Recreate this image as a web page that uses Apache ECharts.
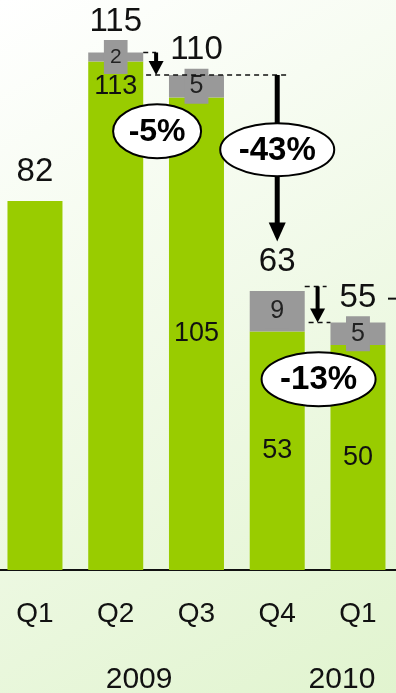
<!DOCTYPE html>
<html><head><meta charset="utf-8">
<script src="https://cdn.jsdelivr.net/npm/echarts@6/dist/echarts.min.js"></script>
<style>html,body{margin:0;padding:0;background:#fff;} #c{width:396px;height:693px;}</style>
</head><body><div id="c"></div>
<script>
const categories = ['Q1', 'Q2', 'Q3', 'Q4', 'Q1'];
const years = ['2009', '2010'];
const baseValues = [82, 113, 105, 53, 50];
const grayValues = [null, 2, 5, 9, 5];
const totals = [82, 115, 110, 63, 55];
const changes = ['-5%', '-43%', '-13%'];

const FONT = 'Liberation Sans, Arial, sans-serif';
const GREEN = '#99cc00';
const GRAY = '#999999';

const chart = echarts.init(document.getElementById('c'), null, {renderer: 'canvas'});

const greenData = baseValues.map((v, i) => {
  const d = {value: v};
  if (i === 0) d.label = {show: false};
  if (i === 1) d.label = {position: 'insideTop', distance: 12};
  return d;
});
const grayData = grayValues.map((v, i) => {
  const d = {value: v};
  if (i === 1) d.label = {fontSize: 21, lineHeight: 24, padding: [5, 6, 5, 6]};
  return d;
});
const totalDist = [12, 14, 8, 8, 8];
const totalData = totals.map((v, i) => ({value: v, label: {distance: totalDist[i]}}));

const option = {
  animation: false,
  grid: {left: -5.4, right: -2.35, top: 3, bottom: 123, containLabel: false, outerBoundsMode: 'none'},
  xAxis: {
    type: 'category',
    data: categories,
    axisLine: {lineStyle: {color: '#111', width: 1.8}},
    axisTick: {show: false},
    axisLabel: {fontSize: 28, color: '#111', fontFamily: FONT, margin: 30}
  },
  yAxis: {type: 'value', min: 0, max: 126, show: false, splitLine: {show: false}},
  graphic: [{
    type: 'rect', z: -100, silent: true,
    shape: {x: 0, y: 0, width: 396, height: 693},
    style: {fill: new echarts.graphic.LinearGradient(0, 0, 1, 1, [
      {offset: 0, color: '#ffffff'}, {offset: 1, color: '#e1f4cf'}])}
  }],
  series: [
    {
      type: 'bar', stack: 's', barWidth: 55, data: greenData,
      itemStyle: {color: GREEN},
      label: {show: true, position: 'inside', fontSize: 27, color: '#111', fontFamily: FONT}
    },
    {
      type: 'bar', stack: 's', barWidth: 55, data: grayData,
      itemStyle: {color: GRAY},
      label: {show: true, position: 'inside', fontSize: 25, lineHeight: 25, color: '#222', fontFamily: FONT,
        backgroundColor: GRAY, padding: [5, 5, 5, 5]}
    },
    {
      type: 'scatter', data: totalData, symbolSize: 1, itemStyle: {color: 'rgba(0,0,0,0)', opacity: 1},
      emphasis: {disabled: true},
      label: {show: true, position: 'top', fontSize: 33, color: '#111', opacity: 1, fontFamily: FONT}
    }
  ]
};
chart.setOption(option);

const P = (i, v) => chart.convertToPixel({xAxisIndex: 0, yAxisIndex: 0}, [i, v]);
const cx = categories.map((c, i) => P(i, 0)[0]);
const Y = v => P(0, v)[1];
const half = 27.5;
const mid = (a, b) => (cx[a] + cx[b]) / 2;

const g = [];
function dashed(x1, x2, y) {
  g.push({type: 'line', z: 50, shape: {x1, y1: y, x2, y2: y},
    style: {stroke: '#111', lineWidth: 1.5, lineDash: [5, 4]}});
}
function arrow(x, y1, y2, sw, hw, hh) {
  g.push({type: 'rect', z: 51, shape: {x: x - sw / 2, y: y1, width: sw, height: y2 - y1 - hh + 1}, style: {fill: '#000'}});
  g.push({type: 'polygon', z: 51, shape: {points: [[x - hw / 2, y2 - hh], [x + hw / 2, y2 - hh], [x, y2]]}, style: {fill: '#000'}});
}
function bubble(x, y, rx, ry, text, fs) {
  g.push({type: 'ellipse', z: 60, shape: {cx: x, cy: y, rx, ry}, style: {fill: '#fff', stroke: '#000', lineWidth: 2}});
  g.push({type: 'text', z: 61, x: x, y: y + 1, style: {text, fontSize: fs, fontWeight: 'bold', fontFamily: FONT,
    fill: '#000', align: 'center', verticalAlign: 'middle'}});
}

// Q2 -> Q3
dashed(cx[1] + half, mid(1, 2), Y(totals[1]));
dashed(mid(1, 2) - 10, cx[3] + 10, Y(totals[2]));
arrow(mid(1, 2), Y(totals[1]), Y(totals[2]), 4, 15, 14);
// Q3 -> Q4
arrow(cx[3], Y(totals[2]), Y(73), 5, 17, 19);
// Q4 -> Q1 2010
dashed(cx[3] + half, mid(3, 4) + 9, Y(totals[3]));
dashed(mid(3, 4) - 9, cx[4] - half, Y(totals[4]));
arrow(mid(3, 4), Y(totals[3]), Y(totals[4]), 4, 15, 14);
// dash continuing beyond the edge after 55
g.push({type: 'line', z: 50, shape: {x1: cx[4] + 30, y1: Y(60.3), x2: cx[4] + 50, y2: Y(60.3)}, style: {stroke: '#111', lineWidth: 2}});

bubble(mid(1, 2) + 1, Y(97.5), 44, 27, changes[0], 32);
bubble(cx[3], Y(93.4), 57, 26.5, changes[1], 33);
bubble(mid(3, 4) + 1, Y(42.4), 57, 27, changes[2], 33);

// years
const yearX = [(cx[0] + cx[3]) / 2 - 17, cx[4] - 16];
years.forEach((t, i) => g.push({type: 'text', z: 50, x: yearX[i], y: Y(0) + 110,
  style: {text: t, fontSize: 30, fontFamily: FONT, fill: '#111', align: 'center', verticalAlign: 'middle'}}));

chart.setOption({graphic: option.graphic.concat(g)});
</script></body></html>
